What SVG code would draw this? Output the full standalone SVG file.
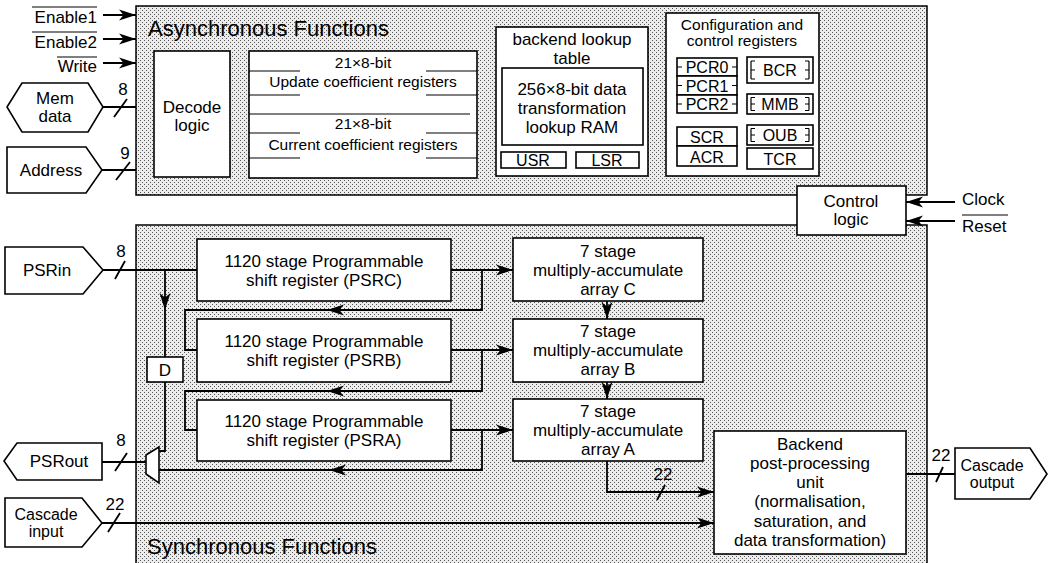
<svg xmlns="http://www.w3.org/2000/svg" xmlns:xlink="http://www.w3.org/1999/xlink" width="1049" height="563" viewBox="0 0 1049 563">
  <defs>
    <!-- fine stipple used for the two function regions -->
    <pattern id="stip" width="4" height="4" patternUnits="userSpaceOnUse">
      <rect width="4" height="4" fill="#ececec"/>
      <rect x="0" y="0" width="1" height="1" fill="#555"/>
      <rect x="2" y="2" width="1" height="1" fill="#555"/>
    </pattern>
    <marker id="arr" markerUnits="userSpaceOnUse" markerWidth="18" markerHeight="12" refX="17" refY="6" orient="auto">
      <path d="M0,0.5 L17,6 L0,11.5 L4.5,6 Z" fill="#000"/>
    </marker>
    <!-- free-standing arrowheads, tip at the origin -->
    <path id="ahL" d="M0,0 L17,-5.5 L12.5,0 L17,5.5 Z" fill="#000"/>
    <path id="ahD" d="M0,0 L-5.5,-17 L0,-12.5 L5.5,-17 Z" fill="#000"/>
    <style>
      .region { fill: url(#stip); stroke: #000; stroke-width: 1.5; }
      .box { fill: #fff; stroke: #000; stroke-width: 1.6; }
      .ln { fill: none; stroke: #000; stroke-width: 1.8; }
      .tk { fill: none; stroke: #000; stroke-width: 1.2; }
      .t { font-family: "Liberation Sans", Arial, Helvetica, sans-serif; font-size: 17px; text-anchor: middle; fill: #000; }
      .s { font-size: 15.5px; }
      .r { font-size: 16px; }
      .big { font-size: 22px; text-anchor: start; }
      .lbl { text-anchor: end; }
      .st { text-anchor: start; }
    </style>
  </defs>

  <!-- function regions -->
  <g id="async-region">
    <rect class="region" x="136" y="6" width="791" height="189"/>
    <text class="t big" x="148" y="36">Asynchronous Functions</text>
  </g>
  <g id="sync-region">
    <rect class="region" x="136" y="225" width="791" height="345"/>
    <text class="t big" x="147" y="554">Synchronous Functions</text>
  </g>

  <!-- asynchronous blocks -->
  <g id="decode-logic">
    <rect class="box" x="154" y="51" width="76" height="126"/>
    <text class="t" x="192" y="113">Decode</text>
    <text class="t" x="192" y="131">logic</text>
  </g>
  <g id="coefficient-registers">
    <rect class="box" x="249" y="51" width="228" height="127"/>
    <path class="tk" d="M249,71 H300 M426,71 H477 M249,95 H300 M426,95 H477 M249,114 H470 M249,133 H300 M426,133 H477 M249,158 H300 M426,158 H477"/>
    <text class="t s" x="363" y="68">21×8-bit</text>
    <text class="t s" x="363" y="87">Update coefficient registers</text>
    <text class="t s" x="363" y="129">21×8-bit</text>
    <text class="t s" x="363" y="150">Current coefficient registers</text>
  </g>
  <g id="backend-lookup-table">
    <rect class="box" x="496" y="27" width="152" height="149"/>
    <text class="t" x="572" y="45">backend lookup</text>
    <text class="t" x="572" y="64">table</text>
    <rect class="box" x="502" y="68" width="141" height="77"/>
    <text class="t" x="572" y="95">256×8-bit data</text>
    <text class="t" x="572" y="114">transformation</text>
    <text class="t" x="572" y="133">lookup RAM</text>
  </g>
  <g id="usr">
    <rect class="box" x="501" y="152" width="65" height="16"/>
    <text class="t r" x="533" y="166">USR</text>
  </g>
  <g id="lsr">
    <rect class="box" x="576" y="152" width="63" height="16"/>
    <text class="t r" x="607" y="166">LSR</text>
  </g>
  <g id="config-registers">
    <rect class="box" x="666" y="13" width="153" height="163"/>
    <text class="t s" x="742" y="30">Configuration and</text>
    <text class="t s" x="742" y="46">control registers</text>
  </g>
  <g id="pcr0">
    <rect class="box" x="677" y="58" width="60" height="18"/>
    <path class="tk" d="M677,67 H682 M732,67 H737"/>
    <text class="t r" x="707" y="73">PCR0</text>
  </g>
  <g id="pcr1">
    <rect class="box" x="677" y="76" width="60" height="19"/>
    <path class="tk" d="M677,85.5 H682 M732,85.5 H737"/>
    <text class="t r" x="707" y="92">PCR1</text>
  </g>
  <g id="pcr2">
    <rect class="box" x="677" y="95" width="60" height="18"/>
    <path class="tk" d="M677,104 H682 M732,104 H737"/>
    <text class="t r" x="707" y="110">PCR2</text>
  </g>
  <g id="scr">
    <rect class="box" x="677" y="127" width="60" height="19"/>
    <text class="t r" x="707" y="143">SCR</text>
  </g>
  <g id="acr">
    <rect class="box" x="677" y="146" width="60" height="20"/>
    <text class="t r" x="707" y="163">ACR</text>
  </g>
  <g id="bcr">
    <rect class="box" x="747" y="57" width="66" height="26"/>
    <path class="tk" d="M751,61 V79 M751,61 H755 M751,70 H755 M751,79 H755 M809,61 V79 M805,61 H809 M805,70 H809 M805,79 H809"/>
    <text class="t r" x="780" y="76">BCR</text>
  </g>
  <g id="mmb">
    <rect class="box" x="747" y="94" width="66" height="20"/>
    <path class="tk" d="M751,97.5 V110.5 M751,97.5 H755 M751,104 H755 M751,110.5 H755 M809,97.5 V110.5 M805,97.5 H809 M805,104 H809 M805,110.5 H809"/>
    <text class="t r" x="780" y="110">MMB</text>
  </g>
  <g id="oub">
    <rect class="box" x="747" y="125" width="66" height="20"/>
    <path class="tk" d="M751,128.5 V141.5 M751,128.5 H755 M751,135 H755 M751,141.5 H755 M809,128.5 V141.5 M805,128.5 H809 M805,135 H809 M805,141.5 H809"/>
    <text class="t r" x="780" y="141">OUB</text>
  </g>
  <g id="tcr">
    <rect class="box" x="747" y="148" width="66" height="21"/>
    <text class="t r" x="780" y="165">TCR</text>
  </g>

  <g id="control-logic">
    <rect class="box" x="797" y="186" width="109" height="49"/>
    <text class="t" x="851" y="207">Control</text>
    <text class="t" x="851" y="225">logic</text>
  </g>

  <!-- synchronous blocks -->
  <g id="psrc">
    <rect class="box" x="197" y="239" width="254" height="62"/>
    <text class="t" x="324" y="267">1120 stage Programmable</text>
    <text class="t" x="324" y="286">shift register (PSRC)</text>
  </g>
  <g id="psrb">
    <rect class="box" x="197" y="319" width="254" height="63"/>
    <text class="t" x="324" y="347">1120 stage Programmable</text>
    <text class="t" x="324" y="366">shift register (PSRB)</text>
  </g>
  <g id="psra">
    <rect class="box" x="197" y="400" width="254" height="61"/>
    <text class="t" x="324" y="427">1120 stage Programmable</text>
    <text class="t" x="324" y="446">shift register (PSRA)</text>
  </g>
  <g id="mac-c">
    <rect class="box" x="513" y="238" width="190" height="63"/>
    <text class="t" x="608" y="257">7 stage</text>
    <text class="t" x="608" y="276">multiply-accumulate</text>
    <text class="t" x="608" y="295">array C</text>
  </g>
  <g id="mac-b">
    <rect class="box" x="513" y="319" width="190" height="63"/>
    <text class="t" x="608" y="337">7 stage</text>
    <text class="t" x="608" y="356">multiply-accumulate</text>
    <text class="t" x="608" y="375">array B</text>
  </g>
  <g id="mac-a">
    <rect class="box" x="513" y="399" width="190" height="62"/>
    <text class="t" x="608" y="417">7 stage</text>
    <text class="t" x="608" y="436">multiply-accumulate</text>
    <text class="t" x="608" y="455">array A</text>
  </g>
  <g id="delay">
    <rect class="box" x="147" y="357" width="36" height="25"/>
    <text class="t" x="165" y="376">D</text>
  </g>
  <g id="mux">
    <polygon class="box" points="146,455 159,447 159,483 146,474"/>
  </g>
  <g id="backend-unit">
    <rect class="box" x="714" y="431" width="192" height="123"/>
    <text class="t" x="810" y="450">Backend</text>
    <text class="t" x="810" y="469">post-processing</text>
    <text class="t" x="810" y="488">unit</text>
    <text class="t" x="810" y="507">(normalisation,</text>
    <text class="t" x="810" y="527">saturation, and</text>
    <text class="t" x="810" y="546">data transformation)</text>
  </g>

  <!-- external ports -->
  <g id="enable1">
    <text class="t lbl" x="97" y="23">Enable1</text>
    <line class="tk" x1="32" y1="7" x2="97" y2="7"/>
  </g>
  <g id="enable2">
    <text class="t lbl" x="97" y="48">Enable2</text>
    <line class="tk" x1="32" y1="32" x2="97" y2="32"/>
  </g>
  <g id="write">
    <text class="t lbl" x="97" y="72">Write</text>
    <line class="tk" x1="57" y1="57" x2="97" y2="57"/>
  </g>
  <g id="mem-data">
    <polygon class="box" points="7,107 22,83 88,83 103,107 88,132 22,132"/>
    <text class="t" x="55" y="104">Mem</text>
    <text class="t" x="55" y="122">data</text>
  </g>
  <g id="address">
    <polygon class="box" points="7,147 86,147 102,170 86,193 7,193"/>
    <text class="t" x="51" y="176">Address</text>
  </g>
  <g id="clock">
    <text class="t st" x="962" y="205">Clock</text>
  </g>
  <g id="reset">
    <text class="t st" x="962" y="232">Reset</text>
    <line class="tk" x1="962" y1="215" x2="1008" y2="215"/>
  </g>
  <g id="psrin">
    <polygon class="box" points="5,247 83,247 103,270 83,294 5,294"/>
    <text class="t" x="47" y="276">PSRin</text>
  </g>
  <g id="psrout">
    <polygon class="box" points="4,461 17,443 102,443 102,480 17,480"/>
    <text class="t" x="59" y="467">PSRout</text>
  </g>
  <g id="cascade-input">
    <polygon class="box" points="5,498 82,498 102,523 82,547 5,547"/>
    <text class="t r" x="46" y="520">Cascade</text>
    <text class="t r" x="46" y="537">input</text>
  </g>
  <g id="cascade-output">
    <polygon class="box" points="955,448 1030,448 1047,474 1030,499 955,499"/>
    <text class="t r" x="992" y="471">Cascade</text>
    <text class="t r" x="992" y="488">output</text>
  </g>

  <!-- connectors -->
  <g id="connectors">
    <line class="ln" x1="103" y1="15" x2="136" y2="15" marker-end="url(#arr)"/>
    <line class="ln" x1="103" y1="39" x2="136" y2="39" marker-end="url(#arr)"/>
    <line class="ln" x1="103" y1="63" x2="136" y2="63" marker-end="url(#arr)"/>

    <line class="ln" x1="103" y1="107" x2="136" y2="107"/>
    <line class="ln" x1="114" y1="117" x2="127" y2="99"/>
    <text class="t" x="123" y="95">8</text>

    <line class="ln" x1="102" y1="170" x2="136" y2="170"/>
    <line class="ln" x1="116" y1="180" x2="130" y2="162"/>
    <text class="t" x="125" y="159">9</text>

    <line class="ln" x1="955" y1="202" x2="906" y2="202" marker-end="url(#arr)"/>
    <line class="ln" x1="955" y1="221" x2="906" y2="221" marker-end="url(#arr)"/>

    <!-- PSRin into PSRC, with tap down through the delay -->
    <line class="ln" x1="103" y1="270" x2="197" y2="270"/>
    <line class="ln" x1="115" y1="279" x2="125" y2="261"/>
    <text class="t" x="121" y="257">8</text>
    <line class="ln" x1="165" y1="270" x2="165" y2="357"/>
    <use xlink:href="#ahD" x="165" y="310"/>
    <polyline class="ln" points="165,382 165,451 159,451"/>

    <!-- shift register outputs to the MAC arrays and on down the chain -->
    <line class="ln" x1="451" y1="270" x2="513" y2="270" marker-end="url(#arr)"/>
    <polyline class="ln" points="482,270 482,310 185,310 185,350 197,350"/>
    <use xlink:href="#ahL" x="327" y="310"/>

    <line class="ln" x1="451" y1="350" x2="513" y2="350" marker-end="url(#arr)"/>
    <polyline class="ln" points="482,350 482,391 185,391 185,430 197,430"/>
    <use xlink:href="#ahL" x="327" y="391"/>

    <line class="ln" x1="451" y1="430" x2="513" y2="430" marker-end="url(#arr)"/>
    <polyline class="ln" points="482,430 482,470 159,470"/>
    <use xlink:href="#ahL" x="329" y="470"/>

    <!-- mux output to PSRout -->
    <line class="ln" x1="146" y1="462" x2="102" y2="462"/>
    <line class="ln" x1="115" y1="471" x2="127" y2="453"/>
    <text class="t" x="121" y="446">8</text>

    <!-- MAC cascade -->
    <line class="ln" x1="607" y1="301" x2="607" y2="319" marker-end="url(#arr)"/>
    <line class="ln" x1="607" y1="382" x2="607" y2="399" marker-end="url(#arr)"/>
    <polyline class="ln" points="607,461 607,492 714,492" marker-end="url(#arr)"/>
    <line class="ln" x1="657" y1="500" x2="665" y2="485"/>
    <text class="t" x="663" y="480">22</text>

    <!-- cascade input and output -->
    <line class="ln" x1="102" y1="523" x2="714" y2="523" marker-end="url(#arr)"/>
    <line class="ln" x1="108" y1="532" x2="120" y2="513"/>
    <text class="t" x="115" y="510">22</text>

    <line class="ln" x1="906" y1="474" x2="955" y2="474"/>
    <line class="ln" x1="936" y1="482" x2="943" y2="467"/>
    <text class="t" x="941" y="461">22</text>
  </g>
</svg>
